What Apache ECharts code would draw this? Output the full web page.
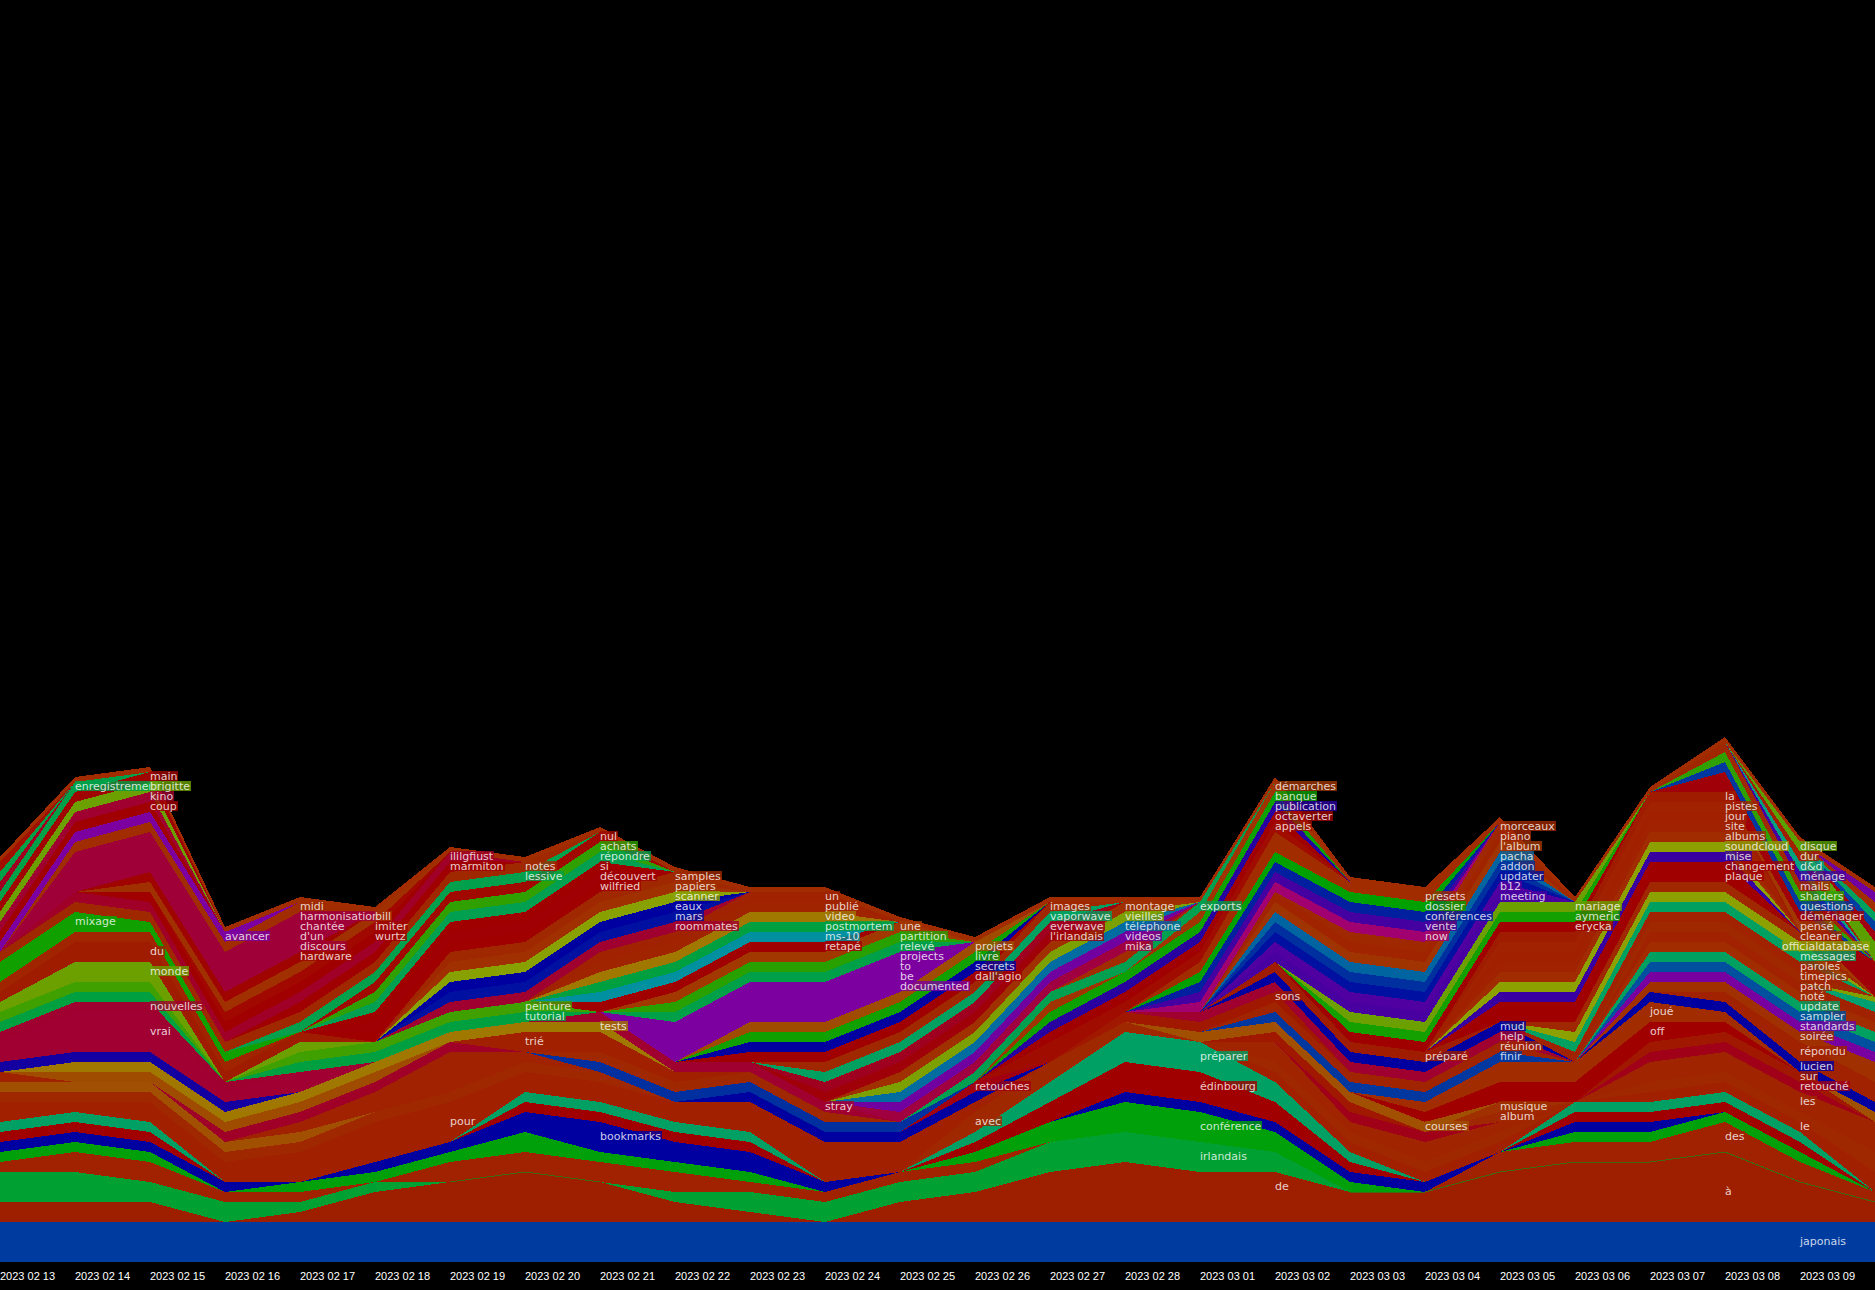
<!DOCTYPE html>
<html><head><meta charset="utf-8">
<style>html,body{margin:0;background:#000}#c{width:1875px;height:1290px}path{shape-rendering:crispEdges}</style>
<script src="https://cdn.jsdelivr.net/npm/echarts@6/dist/echarts.min.js"></script></head>
<body><div id="c"></div>
<script>
const dates=['2023 02 13','2023 02 14','2023 02 15','2023 02 16','2023 02 17','2023 02 18','2023 02 19','2023 02 20','2023 02 21','2023 02 22','2023 02 23','2023 02 24','2023 02 25','2023 02 26','2023 02 27','2023 02 28','2023 03 01','2023 03 02','2023 03 03','2023 03 04','2023 03 05','2023 03 06','2023 03 07','2023 03 08','2023 03 09',''];
// word, first day index, daily counts (stack order, bottom to top); names starting with _ have no printed label
const rows=[
['japonais',0,[4,4,4,4,4,4,4,4,4,4,4,4,4,4,4,4,4,4,4,4,4,4,4,4,4,4]],
['à',0,[1,1,1,0,1,2,2,2,2,1,1,0,1,2,2,3,2,2,2,2,5,6,6,6,4,2]],
['de',0,[1,1,1,0,0,1,2,3,2,1,0,0,1,1,3,3,3,3,1,1,0,0,0,1]],
['irlandais',0,[3,3,2,2,1,1,0,0,0,1,2,2,2,2,3,3,3,2]],
['des',0,[1,2,2,1,1,0,2,2,2,2,1,1,1,1,0,0,0,0,0,0,2,2,2,3,2,1]],
['conférence',0,[1,1,1,0,1,1,1,2,1,1,1,0,0,1,2,3,3,2,1,0,0,1,1,1,1]],
['bookmarks',0,[1,1,1,1,0,1,1,2,3,2,2,1,0,0,0,1,1,1,1,1,0,1,1]],
['édinbourg',0,[1,1,1,0,0,0,0,1,1,1,1,0,0,1,2,3,3,2,1,0,0,1,1,1,1]],
['préparer',0,[1,1,1,0,0,0,0,1,1,1,1,0,0,1,2,3,3,2,1,0,0,1,1,1,1]],
['avec',13,[2,2,1]],
['pour',0,[2,1,2,2,3,4,4,2,2,2,3,4,3,1]],
['_bm',0,[1,1,1,1,1,1,1,1,1]],
['_o1',0,[1,1,1,1,1]],
['_bk',0,[1,0,0,0,1,2,4,1]],
['_cl',3,[1,1,1,1]],
['_o2',1,[1,1,1,1,1]],
['_dk',10,[1,1,1,1]],
['retouches',13,[1]],
['_blm',8,[1,1,1,1,1]],
['_b2',8,[1,1,1,1]],
['trié',7,[2,2,1]],
['tests',1,[1,1,1,1,1,1,1,1]],
['_blv',0,[1,1,1,1]],
['vrai',0,[2,4,4,1,2]],
['nouvelles',0,[1,1,1,1]],
['le',17,[1,1,1,1,0,1,1,1,2]],
['_x',17,[1,1,1,1,0,1,1,1,2]],
['les',17,[2,1,2,1,0,2,2,2,3]],
['retouché',18,[1,1,0,0,1,1,1]],
['sur',17,[1,1,0,0,0,1,1,1]],
['album',20,[1]],
['musique',20,[1]],
['courses',16,[1,1,1,1,0,0,0,0,0,1]],
['off',19,[1,2,2,2,1]],
['joué',19,[1,2,2,2,1]],
['finir',17,[1,1,1,1]],
['réunion',17,[1,1,1,1]],
['sons',15,[1,1,1]],
['help',16,[1,1,1,1,1]],
['mud',17,[1,1,1,1]],
['préparé',17,[1,1,1]],
['lucien',22,[1,1,1,1]],
['répondu',23,[1,2,2]],
['soirée',22,[1,1,1,2]],
['standards',22,[1,1,1,1]],
['sampler',22,[1,1,1,1]],
['update',22,[1,1,1,1]],
['noté',22,[1,1,1,1]],
['patch',22,[1,1,1,1]],
['_tw',25,[1]],
['_ow',25,[0.5]],
['timepics',22,[1,1,1]],
['paroles',21,[1,1,1,1]],
['messages',21,[1,1,1,1]],
['officialdatabase',21,[1,1,1,1]],
['cleaner',21,[1,1,1,1]],
['plaque',20,[1,1,1,1]],
['changement',20,[1,1,1,1]],
['mise',20,[1,1,1,1]],
['soundcloud',20,[1,1,1,1]],
['albums',20,[1,1,1,1]],
['site',20,[1,1,1,1]],
['jour',20,[1,1,1,1]],
['pistes',20,[1,1,1,1]],
['la',20,[1,1,1,1]],
['pensé',24,[1]],
['déménager',23,[2,1,3.5]],
['questions',23,[1,1]],
['shaders',23,[1,1]],
['mails',23,[1,1]],
['ménage',24,[1]],
['d&d',24,[1]],
['dur',24,[1]],
['disque',24,[1,2]],
['_e1',25,[1]],
['_e2',25,[1]],
['_e3',25,[1]],
['_e4',25,[1]],
['_e5',25,[1]],
['erycka',18,[1,1,1,1]],
['aymeric',18,[1,1,1,1]],
['mariage',18,[1,1,1,1]],
['meeting',17,[1,1,1,1]],
['b12',17,[1,1,1,1]],
['updater',17,[1,1,1,1]],
['addon',17,[1,1,1,1]],
['pacha',17,[1,1,1,1]],
["l'album",17,[1,1,1,1]],
['piano',17,[1,1,1,1]],
['morceaux',18,[1,1,1]],
['now',16,[1,1,1,1]],
['vente',16,[1,1,1,1]],
['conférences',16,[1,1,1,1]],
['dossier',16,[1,1,1,1]],
['presets',16,[1,2,1,1]],
['appels',14,[2,1,1,1]],
['octaverter',14,[1,1,1,1]],
['publication',14,[1,1,1,1]],
['banque',14,[1,1,1,1]],
['démarches',14,[1,0,1,1]],
['exports',13,[1,1,1,1]],
['_oth',15,[1]],
['stray',8,[1,1,1,1]],
['mika',12,[1,1,1,1]],
['videos',12,[1,1,1,1]],
['téléphone',12,[1,1,1,1]],
['vieilles',12,[1,1,1,1]],
['montage',12,[1,1,1,1]],
["l'irlandais",11,[1,1,1,1]],
['everwave',11,[1,1,1,1]],
['vaporwave',11,[1,1,1,1]],
['images',11,[1,1,1,1]],
["dall'agio",10,[1,1,1,1]],
['secrets',10,[1,1,1,1]],
['livre',10,[1,1,1,1]],
['projets',10,[1,1,1,1]],
['documented',9,[1,1,1,1]],
['be',9,[1,1,1,1]],
['to',9,[1,1,1,1]],
['projects',9,[1,1,1,1]],
['tutorial',0,[1,1,1,0,1,1,1,1]],
['peinture',0,[1,1,1,0,1,1,1,1]],
['monde',0,[1,2,2,0,1]],
['du',0,[1,2,2,1,1]],
['_x2',0,[1,1,1,1]],
['mixage',0,[2,2,1,1]],
['relevé',9,[1,1,1,1]],
['partition',9,[1,1,1,1]],
['une',9,[1,1,1,1]],
['retapé',8,[1,1,1,1]],
['ms-10',8,[1,1,1,1]],
['postmortem',8,[1,1,1,1]],
['video',8,[1,1,1,1]],
['publié',8,[1,1,1,1]],
['un',8,[1,1,1,1]],
['roommates',6,[1,1,1,1]],
['mars',6,[1,1,1,1]],
['eaux',6,[1,1,1,1]],
['scanner',6,[1,1,1,1]],
['papiers',6,[1,1,1,1]],
['samples',6,[1,1,1,1]],
['wilfried',5,[1,1,1,1]],
['découvert',5,[1,1,1,1]],
['si',5,[1,1,1,1]],
['répondre',5,[1,1,1,1]],
['achats',5,[1,1,1,1]],
['nul',5,[1,1,1,1]],
['lessive',4,[1,1,1,1]],
['notes',0,[1,1,1,1,1,1,1,1]],
['marmiton',4,[1,1,1]],
['ililgfiust',1,[1,1,1,1,1,1]],
['wurtz',2,[1,1,1,1]],
['imiter',3,[1,1,1]],
['bill',2,[1,1,1,1]],
['hardware',2,[1,1,1]],
['discours',1,[1,1,1,1]],
["d'un",1,[1,1,1,1]],
['chantée',1,[1,1,1,1]],
['harmonisation',1,[1,1,1,1]],
['midi',1,[1,1,1,1]],
['avancer',0,[1,1,1,1]],
['coup',0,[1,1,1]],
['kino',0,[1,1,1]],
['brigitte',0,[1,1,1]],
['main',0,[1,1,1]],
['enregistrement',0,[1,1]],
['_ca',0,[1]],
['_tb',0,[1]],
['_cb',0,[1]],
['_cap',0,[.5,.5,.5,.5,.5,.5,.5,.5,.5,.5,.5,.5,.5,.5,.5,.5,.5,.5,.5,.5,.5,.5,.5,.5,.5,.5]]
];
// day on which each word's label is printed
const labelDay={japonais:24,'à':23,de:17,irlandais:16,des:23,'conférence':16,bookmarks:8,'édinbourg':16,'préparer':16,avec:13,pour:6,retouches:13,'trié':7,tests:8,vrai:2,nouvelles:2,le:24,les:24,'retouché':24,sur:24,album:20,musique:20,courses:19,off:22,'joué':22,finir:20,'réunion':20,sons:17,help:20,mud:20,'préparé':19,lucien:24,'répondu':24,'soirée':24,standards:24,sampler:24,update:24,'noté':24,patch:24,timepics:24,paroles:24,messages:24,officialdatabase:24,cleaner:24,plaque:23,changement:23,mise:23,soundcloud:23,albums:23,site:23,jour:23,pistes:23,la:23,'pensé':24,'déménager':24,questions:24,shaders:24,mails:24,'ménage':24,'d&d':24,dur:24,disque:24,erycka:21,aymeric:21,mariage:21,meeting:20,b12:20,updater:20,addon:20,pacha:20,"l'album":20,piano:20,morceaux:20,now:19,vente:19,'conférences':19,dossier:19,presets:19,appels:17,octaverter:17,publication:17,banque:17,'démarches':17,exports:16,stray:11,mika:15,videos:15,'téléphone':15,vieilles:15,montage:15,"l'irlandais":14,everwave:14,vaporwave:14,images:14,"dall'agio":13,secrets:13,livre:13,projets:13,documented:12,be:12,to:12,projects:12,tutorial:7,peinture:7,monde:2,du:2,mixage:1,'relevé':12,partition:12,une:12,'retapé':11,'ms-10':11,postmortem:11,video:11,'publié':11,un:11,roommates:9,mars:9,eaux:9,scanner:9,papiers:9,samples:9,wilfried:8,'découvert':8,si:8,'répondre':8,achats:8,nul:8,lessive:7,notes:7,marmiton:6,ililgfiust:6,wurtz:5,imiter:5,bill:5,hardware:4,discours:4,"d'un":4,'chantée':4,harmonisation:4,midi:4,avancer:3,coup:2,kino:2,brigitte:2,main:2,enregistrement:1};
const colours={japonais:'#003ca0','à':'#9e1e00',de:'#9e1e00',irlandais:'#00a032',des:'#a02200','conférence':'#00a00a',bookmarks:'#0000a0','édinbourg':'#a00000','préparer':'#00a064',avec:'#a02800',pour:'#a02000',_bm:'#a02800',_o1:'#a05000',_bk:'#a02200',_cl:'#a00028',_o2:'#a04c00',_dk:'#0000a0',retouches:'#a00010',_blm:'#0030a0',_b2:'#a02800','trié':'#a02000',tests:'#a07800',_blv:'#1400a0',vrai:'#a00032',nouvelles:'#a00030',le:'#a02000',_x:'#a02800',les:'#a02400','retouché':'#a00018',sur:'#a01800',album:'#a02800',musique:'#a03000',courses:'#a05000',off:'#a00000','joué':'#a02c00',finir:'#0038a0','réunion':'#a02400',sons:'#a01800',help:'#a00030',mud:'#0000a0','préparé':'#a01c00',lucien:'#0000a0','répondu':'#a02200','soirée':'#a03000',standards:'#7800a0',sampler:'#0050a0',update:'#00a060','noté':'#a02c00',patch:'#a02200',_tw:'#00a070',_ow:'#80a000',timepics:'#a02800',paroles:'#a02200',messages:'#00a060',officialdatabase:'#8ca000',cleaner:'#a02800',plaque:'#a00000',changement:'#a00000',mise:'#3800a0',soundcloud:'#8ca000',albums:'#a02c00',site:'#a02200',jour:'#a02000',pistes:'#a02200',la:'#a01c00','pensé':'#a03800','déménager':'#a00008',questions:'#0038a0',shaders:'#30a000',mails:'#a02800','ménage':'#4400a0','d&d':'#00a080',dur:'#a02000',disque:'#5ca000',_e1:'#a00010',_e2:'#0040a0',_e3:'#00a060',_e4:'#a02c00',_e5:'#7000a0',erycka:'#a00000',aymeric:'#14a000',mariage:'#6ca000',meeting:'#4800a0',b12:'#5000a0',updater:'#0010a0',addon:'#0030a0',pacha:'#0064a0',"l'album":'#a03400',piano:'#a02400',morceaux:'#a02800',now:'#a00070',vente:'#4400a0','conférences':'#0020a0',dossier:'#00a000',presets:'#a02c00',appels:'#a00c00',octaverter:'#a00000',publication:'#2800a0',banque:'#0ca000','démarches':'#a03400',exports:'#00a050',_oth:'#a02c00',stray:'#a00030',mika:'#a00040',videos:'#7000a0','téléphone':'#006ca0',vieilles:'#7ca000',montage:'#a03000',"l'irlandais":'#a00008',everwave:'#a00020',vaporwave:'#00a060',images:'#a02800',"dall'agio":'#a00000',secrets:'#0000a0',livre:'#10a000',projets:'#a04c00',documented:'#7c00a0',be:'#7c00a0',to:'#7c00a0',projects:'#7c00a0',tutorial:'#00a040',peinture:'#40a000',monde:'#6ca000',du:'#a01c00',_x2:'#a02400',mixage:'#10a000','relevé':'#00a048',partition:'#28a000',une:'#a03800','retapé':'#a00000','ms-10':'#0090a0',postmortem:'#00a040',video:'#a07800','publié':'#a02400',un:'#a02200',roommates:'#a00030',mars:'#0010a0',eaux:'#0000a0',scanner:'#88a000',papiers:'#a03000',samples:'#a02800',wilfried:'#a00000','découvert':'#a00004',si:'#a00000','répondre':'#00a050',achats:'#30a000',nul:'#a00800',lessive:'#00a04c',notes:'#a02800',marmiton:'#a00000',ililgfiust:'#a00028',wurtz:'#a00000',imiter:'#a00800',bill:'#a03000',hardware:'#a00400',discours:'#a00038',"d'un":'#a00038','chantée':'#a00038',harmonisation:'#a00038',midi:'#a02c00',avancer:'#7c00a0',coup:'#a00000',kino:'#a00030',brigitte:'#6ca000',main:'#a00400',enregistrement:'#00a048',_ca:'#a00020',_tb:'#00a048',_cb:'#a01000',_cap:'#a02c00'};

const n=dates.length;
const full=rows.map(r=>{const a=new Array(n).fill(0);r[2].forEach((v,i)=>{a[r[1]+i]=v});return a});
const base=new Array(n).fill(0);
const series=[],labels=[];
let seam=null;
rows.forEach((r,i)=>{
  const w=r[0],col=colours[w]||'#a02400';
  series.push({type:'line',stack:'s',data:full[i],showSymbol:false,silent:true,lineStyle:{width:0},areaStyle:{color:col,opacity:1},itemStyle:{color:col},z:2});
  const d=labelDay[w];
  if(d!==undefined){labels.push({value:[d,base[d]+full[i][d]/2],name:w,label:{backgroundColor:col,offset:w==='officialdatabase'?[-18,-1]:[0,-1]}});}
  full[i].forEach((v,k)=>{base[k]+=v});
  if(w==='irlandais') seam=full[i].map((v,k)=>v===0?base[k]:null);
});
labels.sort((a,b)=>a.value[0]-b.value[0]);
series.push({type:'line',data:seam,showSymbol:false,silent:true,connectNulls:false,lineStyle:{width:1,color:'#3f6a10'},z:3});
series.push({type:'scatter',data:labels,symbolSize:0,silent:true,z:5,label:{show:true,position:'right',distance:0,formatter:p=>p.name,color:'#fff',fontFamily:'DejaVu Sans',fontSize:11,lineHeight:10,height:10,padding:[0,1,0,0]}});
const chart=echarts.init(document.getElementById('c'),null,{renderer:'svg'});
chart.setOption({animation:false,backgroundColor:'#000',
 grid:{left:0,right:0,top:2,bottom:28,containLabel:false,outerBoundsMode:'none'},
 xAxis:{type:'category',data:dates,boundaryGap:false,axisLine:{show:false},axisTick:{show:false},splitLine:{show:false},
   axisLabel:{interval:0,color:'#fff',fontFamily:'Liberation Sans',fontSize:11,align:'left',margin:8,showMinLabel:true,showMaxLabel:true,hideOverlap:false}},
 yAxis:{type:'value',min:0,max:126,show:false,splitLine:{show:false}},
 series});
</script></body></html>
